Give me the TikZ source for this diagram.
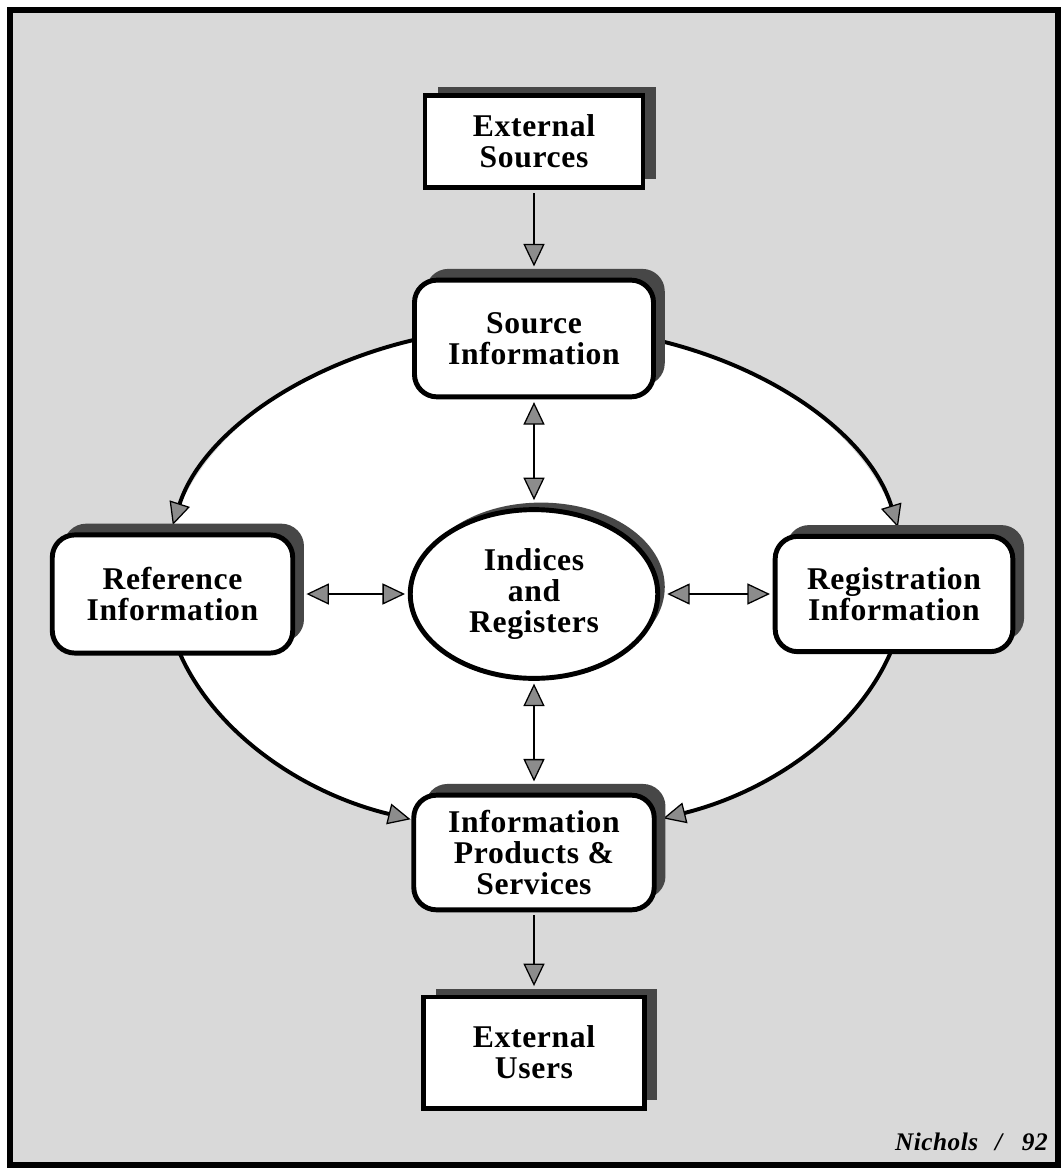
\documentclass[tikz,border=0pt]{standalone}
\usepackage{fontspec}
\setmainfont{Liberation Serif}
\newfontfamily\boxfont{Liberation Serif}[LetterSpace=2]
\usetikzlibrary{arrows.meta,shapes.geometric,shadows}

\tikzset{
  gtri/.tip={Triangle[length=16pt,width=15pt,fill=black!45,line width=0.9pt]},
  frameline/.style={line width=4.2pt},
  boxtext/.style={font=\boxfont\bfseries\fontsize{22.5}{22}\selectfont, align=center, inner sep=0pt},
  roundbox/.style={boxtext, draw, fill=white, line width=3.5pt, rounded corners=16pt,
    drop shadow={shadow xshift=8pt, shadow yshift=8pt, fill=black!72, opacity=1}},
  squarebox/.style={boxtext, draw, fill=white, line width=3.5pt,
    drop shadow={shadow xshift=9pt, shadow yshift=6pt, fill=black!72, opacity=1}},
  hub/.style={boxtext, ellipse, draw, fill=white, line width=3.5pt,
    drop shadow={shadow xshift=5pt, shadow yshift=5pt, fill=black!72, opacity=1}},
  ovalline/.style={line width=2.8pt, -{gtri}},
  link/.style={line width=2pt, -{gtri}, shorten <=2pt},
  link2/.style={line width=2pt, {gtri}-{gtri}},
}

\begin{document}
\begin{tikzpicture}[x=0.025cm,y=-0.025cm]
  % page and background
  \useasboundingbox (0,0) rectangle (1062,1169);
  \fill[black!15] (10,10) rectangle (1058,1165);
  \draw[frameline] (10,10) rectangle (1058,1165);

  % white interior of the main cycle
  \coordinate (oc) at (535,580);
  \fill[white] (oc) ellipse [x radius=371, y radius=254];

  % cycle arcs
  \draw[ovalline] ([shift={(252:371 and 254)}]oc) arc[start angle=252, end angle=192.5, x radius=371, y radius=254];
  \draw[ovalline] ([shift={(165:371 and 254)}]oc) arc[start angle=165, end angle=109.6, x radius=371, y radius=254];
  \draw[ovalline] ([shift={(286:371 and 254)}]oc) arc[start angle=286, end angle=348, x radius=371, y radius=254];
  \draw[ovalline] ([shift={(14:371 and 254)}]oc) arc[start angle=14, end angle=69.8, x radius=371, y radius=254];

  % nodes
  \node[squarebox, minimum width=155pt, minimum height=66pt] (extsrc) at (534,141.5) {External\\Sources};
  \node[roundbox, minimum width=170pt, minimum height=83pt] (src) at (534,338.5) {Source\\Information};
  \node[roundbox, minimum width=171pt, minimum height=84pt] (ref) at (172.5,594) {Reference\\Information};
  \node[roundbox, minimum width=169pt, minimum height=82pt] (reg) at (894,594) {Registration\\Information};
  \node[hub, minimum width=176pt, minimum height=120pt] (ind) at (534,594) {Indices\\and\\Registers};
  \node[roundbox, minimum width=171pt, minimum height=81.5pt] (info) at (534,852.5) {Information\\Products \&\\Services};
  \node[squarebox, minimum width=157pt, minimum height=79pt] (users) at (534,1052.5) {External\\Users};

  % connectors
  \draw[link, shorten >=8pt] (extsrc.south) -- (src.north);
  \draw[link2, shorten <=2pt, shorten >=5pt] (src.south) -- (ind.north);
  \draw[link2, shorten <=2pt, shorten >=8pt] (ind.south) -- (info.north);
  \draw[link2, shorten <=8pt, shorten >=2pt] (ref.east) -- (ind.west);
  \draw[link2, shorten <=5pt, shorten >=2pt] (ind.east) -- (reg.west);
  \draw[link, shorten >=6pt] (info.south) -- (users.north);

  % signature
  \node[anchor=base east, inner sep=0pt, font=\boxfont\bfseries\itshape\fontsize{18}{20}\selectfont] (sig) at (1048,1150) {Nichols\hspace{12pt}/\hspace{14pt}92};
\end{tikzpicture}
\end{document}
